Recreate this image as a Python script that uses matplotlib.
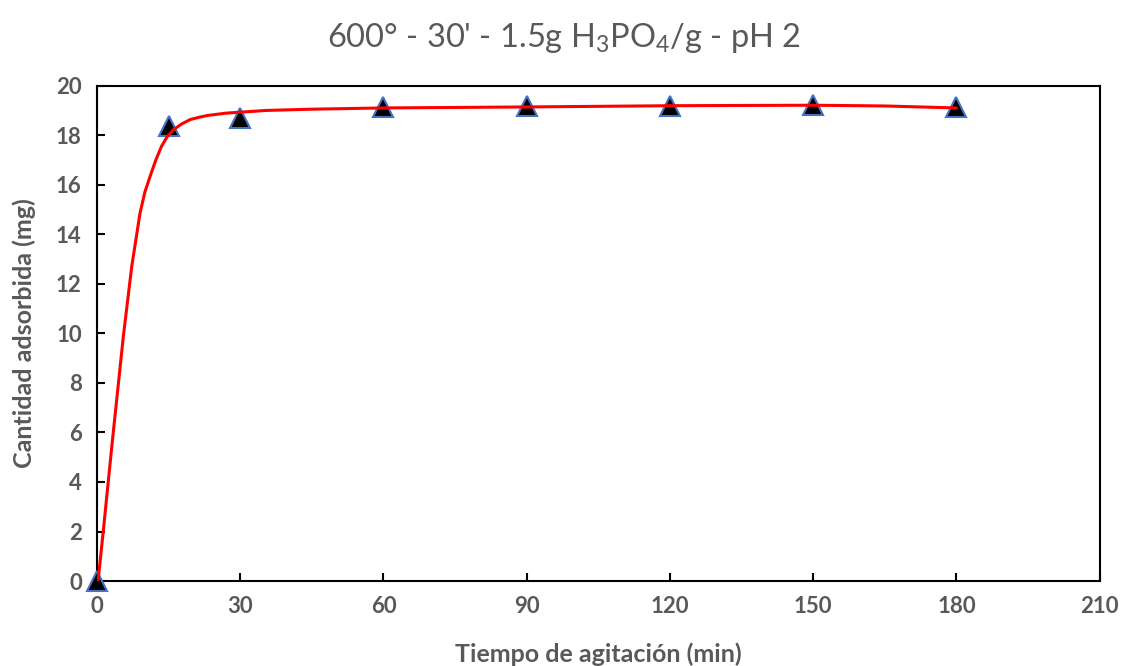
import matplotlib
matplotlib.use("Agg")
import matplotlib.pyplot as plt

plt.rcParams['font.family'] = ['Lato', 'DejaVu Sans']
plt.rcParams['mathtext.fontset'] = 'custom'
plt.rcParams['mathtext.rm'] = 'Lato'
plt.rcParams['mathtext.it'] = 'Lato'

# datos experimentales
tiempo = [0, 15, 30, 60, 90, 120, 150, 180]
cantidad = [0, 18.4, 18.7, 19.15, 19.2, 19.2, 19.22, 19.15]

# curva del modelo
t_modelo = [0, 0.27, 1.32, 3.08, 5.5, 7.26, 9.0, 10.0, 11.1, 12.3, 13.5,
            14.7, 16.0, 17.7, 19.5, 21.5, 23.3, 27.0, 35.5, 45.0, 59.9,
            89.9, 120, 150, 165, 180]
q_modelo = [0, 0.1, 2.05, 5.42, 9.87, 12.7, 14.86, 15.7, 16.34, 17.0, 17.56,
            17.95, 18.23, 18.46, 18.64, 18.74, 18.81, 18.9, 19.01, 19.06,
            19.11, 19.15, 19.2, 19.22, 19.19, 19.11]

xticks = [0, 30, 60, 90, 120, 150, 180, 210]
yticks = list(range(0, 21, 2))

gris = "#595959"

fig = plt.figure(figsize=(11.22, 6.66), dpi=100)
ax = fig.add_axes([0.0865, 0.1276, 0.8935, 0.7434])

ax.plot(tiempo, cantidad, linestyle="none", marker="^", markersize=14,
        markerfacecolor="black", markeredgecolor="#4472C4", markeredgewidth=1.5,
        clip_on=False, zorder=3)
ax.plot(t_modelo, q_modelo, color="#FF0000", linewidth=2.2, zorder=4,
        solid_capstyle="round", solid_joinstyle="round")

ax.set_xlim(0, 210)
ax.set_ylim(0, 20)
ax.set_xticks(xticks)
ax.set_yticks(yticks)

for s in ax.spines.values():
    s.set_linewidth(1.5)
    s.set_color("black")

ax.tick_params(direction="in", length=6, width=1.5, top=False, right=False,
               labelsize=16, labelcolor=gris, pad=11)
for lab in ax.get_xticklabels() + ax.get_yticklabels():
    lab.set_fontweight("bold")

ax.set_xlabel("Tiempo de agitación (min)", fontsize=18, fontweight="bold",
              color=gris, labelpad=18)
ax.set_ylabel("Cantidad adsorbida (mg)", fontsize=18, fontweight="bold",
              color=gris, labelpad=14)

fig.text(0.503, 0.943, "600° - 30' - 1.5g H$_3$PO$_4$/g - pH 2",
         ha="center", va="center", fontsize=23.5, color=gris)

fig.savefig("out.png", dpi=100)
